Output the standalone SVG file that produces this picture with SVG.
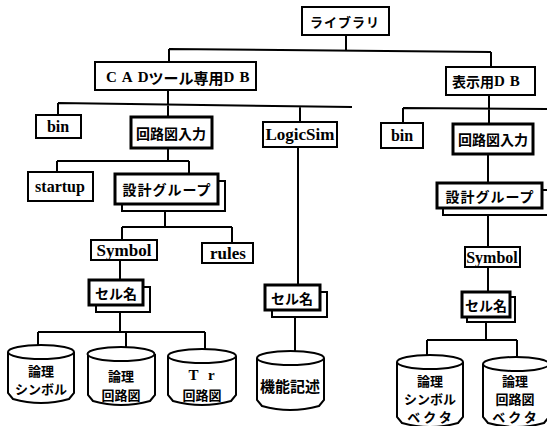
<svg xmlns="http://www.w3.org/2000/svg" width="547" height="426" viewBox="0 0 547 426">
<style>
.bx{fill:#fff;stroke:#000;stroke-width:2}
.bk{fill:#fff;stroke:#000;stroke-width:3}
.ln{fill:none;stroke:#000;stroke-width:2}
.cy{fill:#fff;stroke:#000;stroke-width:2}
.jp{font-family:"Noto Sans CJK JP","Noto Sans",sans-serif;font-weight:bold;fill:#000;text-anchor:middle;dominant-baseline:central}
.en{font-family:"Liberation Serif","DejaVu Serif",serif;font-weight:bold;fill:#000;text-anchor:middle;dominant-baseline:central}
.mx{font-family:"Liberation Serif","Noto Sans CJK JP",serif;font-weight:bold;fill:#000;dominant-baseline:central}
</style>
<rect width="547" height="426" fill="#fff"/>
<g id="connectors">
<path class="ln" d="M346,35V50M169,49L491,52M169,49V62M491,52V67"/>
<path class="ln" d="M168,90V104M58,103L352,107M58,103V115M168,104V117M300,106V122"/>
<path class="ln" d="M489,95V124M403,108L547,109M403,108V123"/>
<path class="ln" d="M168,148V161M57,161H189M57,161V172M189,161V174"/>
<path class="ln" d="M165,211V227M122,227H232M122,227V240M232,227V243"/>
<path class="ln" d="M120,260V280M120,312V332M38,332H205M38,332V346M126,332V348M205,332V350"/>
<path class="ln" d="M298,147V285M295,317V351"/>
<path class="ln" d="M488,154V183M488,215V247M488,267V292M486,322V340M427,340H517M427,340V356M517,340V358"/>
</g>
<g id="n-library"><rect class="bx" x="302" y="7" width="87" height="28"/><text class="jp" x="345" y="21" font-size="13" letter-spacing="1">ライブラリ</text></g>
<g id="n-caddb"><rect class="bx" x="95" y="62" width="161" height="28"/><text class="mx" x="106" y="77" font-size="15"><tspan letter-spacing="5">CA</tspan><tspan>D</tspan><tspan font-family="Noto Sans CJK JP" font-size="15">ツール専用</tspan><tspan letter-spacing="5">D</tspan><tspan>B</tspan></text></g>
<g id="n-dispdb"><rect class="bx" x="446" y="67" width="89" height="28"/><text class="mx" x="452" y="81" font-size="15"><tspan font-family="Noto Sans CJK JP" font-size="14">表示用</tspan><tspan letter-spacing="5">D</tspan><tspan>B</tspan></text></g>
<g id="n-bin1"><rect class="bx" x="36" y="115" width="45" height="23"/><text class="en" x="58" y="126" font-size="16">bin</text></g>
<g id="n-kairo1"><rect class="bk" x="131" y="117" width="81" height="31"/><text class="jp" x="171" y="133" font-size="14">回路図入力</text></g>
<g id="n-logicsim"><rect class="bx" x="263" y="122" width="74" height="25" stroke-width="2.5"/><text class="en" x="300" y="134" font-size="17">LogicSim</text></g>
<g id="n-bin2"><rect class="bx" x="381" y="123" width="42" height="25"/><text class="en" x="402" y="135" font-size="16">bin</text></g>
<g id="n-kairo2"><rect class="bk" x="453" y="124" width="80" height="30"/><text class="jp" x="493" y="139" font-size="14">回路図入力</text></g>
<g id="n-startup"><rect class="bx" x="28" y="172" width="65" height="29"/><text class="en" x="60" y="186" font-size="16">startup</text></g>
<g id="n-group1"><rect class="bx" x="122" y="181" width="103" height="30"/><rect class="bk" x="115" y="174" width="103" height="30"/><text class="jp" x="167" y="189" font-size="14" letter-spacing="1">設計グループ</text></g>
<g id="n-group2"><rect class="bx" x="443" y="190" width="106" height="25"/><rect class="bk" x="437" y="183" width="105" height="25"/><text class="jp" x="490" y="196" font-size="14" letter-spacing="1">設計グループ</text></g>
<g id="n-symbol1"><rect class="bx" x="91" y="240" width="66" height="20"/><text class="en" x="124" y="250" font-size="17">Symbol</text></g>
<g id="n-rules"><rect class="bx" x="202" y="243" width="51" height="20"/><text class="en" x="228" y="253" font-size="17">rules</text></g>
<g id="n-symbol2"><rect class="bx" x="465" y="247" width="55" height="20"/><text class="en" x="492" y="257" font-size="16">Symbol</text></g>
<g id="n-cell1"><rect class="bx" x="96" y="287" width="54" height="25"/><rect class="bk" x="89" y="280" width="54" height="25"/><text class="jp" x="116" y="293" font-size="14">セル名</text></g>
<g id="n-cell2"><rect class="bx" x="272" y="292" width="55" height="25"/><rect class="bk" x="265" y="285" width="55" height="25"/><text class="jp" x="292" y="298" font-size="14">セル名</text></g>
<g id="n-cell3"><rect class="bx" x="467" y="297" width="48" height="25"/><rect class="bk" x="462" y="292" width="48" height="25"/><text class="jp" x="486" y="305" font-size="14">セル名</text></g>
<g id="n-cyl1"><path class="cy" d="M8,352V393L13,399Q41,407 69,399L74,393V352"/><ellipse class="cy" cx="41" cy="352" rx="33" ry="7"/><text class="jp" x="41" y="370" font-size="13">論理</text><text class="jp" x="41" y="388" font-size="13">シンボル</text></g>
<g id="n-cyl2"><path class="cy" d="M88,354V395L93,401Q121,409 150,401L155,395V354"/><ellipse class="cy" cx="121" cy="354" rx="33.5" ry="7"/><text class="jp" x="121" y="375" font-size="13">論理</text><text class="jp" x="121" y="394" font-size="13">回路図</text></g>
<g id="n-cyl3"><path class="cy" d="M168,356V395L173,401Q202,409 231,401L236,395V356"/><ellipse class="cy" cx="202" cy="356" rx="34" ry="7"/><text class="en" x="203" y="375" font-size="15" letter-spacing="3">T r</text><text class="jp" x="202" y="394" font-size="13">回路図</text></g>
<g id="n-cyl4"><path class="cy" d="M257,358V400L262,406Q290,414 319,406L324,400V358"/><ellipse class="cy" cx="290.5" cy="358" rx="33.5" ry="7"/><text class="jp" x="290" y="385" font-size="15">機能記述</text></g>
<g id="n-cyl5"><path class="cy" d="M397,362V417L402,423Q430,431 458,423L463,417V362"/><ellipse class="cy" cx="430" cy="362" rx="33" ry="7"/><text class="jp" x="430" y="380" font-size="13">論理</text><text class="jp" x="430" y="398" font-size="13">シンボル</text><text class="jp" x="431" y="416" font-size="13" letter-spacing="3">ベクタ</text></g>
<g id="n-cyl6"><path class="cy" d="M483,364V417L488,423Q516,431 544,423L549,417V364"/><ellipse class="cy" cx="516" cy="364" rx="33" ry="7"/><text class="jp" x="515" y="380" font-size="13">論理</text><text class="jp" x="515" y="398" font-size="13">回路図</text><text class="jp" x="516" y="416" font-size="13" letter-spacing="3">ベクタ</text></g>
</svg>
